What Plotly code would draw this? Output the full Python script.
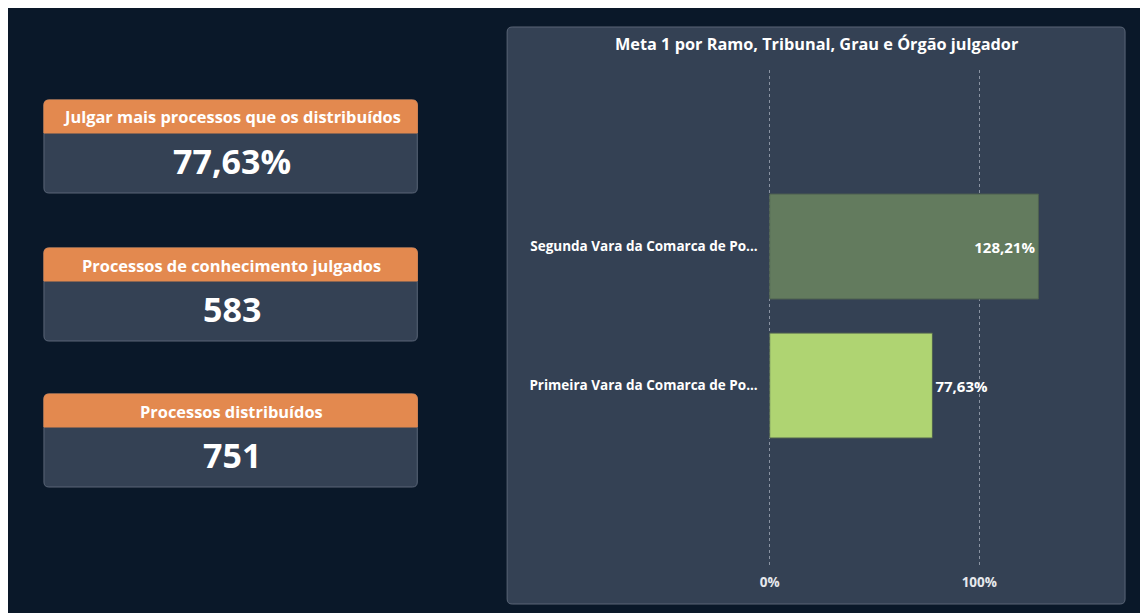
import plotly.graph_objects as go

# ---------------- data ----------------
card_titles = ["Julgar mais processos que os distribuídos",
               "Processos de conhecimento julgados",
               "Processos distribuídos"]
card_values = ["77,63%", "583", "751"]

orgaos = ["Primeira Vara da Comarca de Po...", "Segunda Vara da Comarca de Po..."]
meta_pct = [77.63, 128.21]
bar_colors = ["#afd472", "#637b5e"]
tick_vals = [0, 100]
tick_text = ["0%", "100%"]
chart_title = "Meta 1 por Ramo, Tribunal, Grau e Órgão julgador"

# ---------------- geometry helpers ----------------
W, H = 1148, 613
OX, OY = 8, 8  # page offset (body margin) between reference pixels and figure pixels


def px(x):
    return (x - OX) / W


def py(y):
    return 1 - (y - OY) / H


def rrect(x0, y0, x1, y1, r=4, top=True, bottom=True):
    rx, ry = r / W, r / H
    X0, X1 = px(x0), px(x1)
    Yt, Yb = py(y0), py(y1)
    rt = (rx, ry) if top else (0, 0)
    rb = (rx, ry) if bottom else (0, 0)
    p = f"M {X0 + rt[0]},{Yt} L {X1 - rt[0]},{Yt} Q {X1},{Yt} {X1},{Yt - rt[1]} "
    p += f"L {X1},{Yb + rb[1]} Q {X1},{Yb} {X1 - rb[0]},{Yb} "
    p += f"L {X0 + rb[0]},{Yb} Q {X0},{Yb} {X0},{Yb + rb[1]} "
    p += f"L {X0},{Yt - rt[1]} Q {X0},{Yt} {X0 + rt[0]},{Yt} Z"
    return p


FONT = "Open Sans"
BG = "#0a1829"
CARD = "#344154"
ORANGE = "#e3894f"
BORDER = "#5a6577"

fig = go.Figure()

fig.add_trace(go.Bar(
    y=orgaos, x=meta_pct, orientation="h",
    marker=dict(color=bar_colors, line=dict(color="#4f6150", width=1)),
    texttemplate="%{x:.2f}%",
    textposition=["outside", "inside"],
    insidetextanchor="end",
    textfont=dict(family=FONT, size=15, color="white", weight="bold"),
    outsidetextfont=dict(family=FONT, size=15, color="white", weight="bold"),
    insidetextfont=dict(family=FONT, size=15, color="white", weight="bold"),
    cliponaxis=False,
    hoverinfo="skip",
))

shapes = []
annotations = []

# right panel
shapes.append(dict(type="path", path=rrect(506, 27, 1125, 604, r=5),
                   xref="paper", yref="paper", fillcolor=CARD,
                   line=dict(color=BORDER, width=1), layer="below"))
annotations.append(dict(text=chart_title, x=px(816), y=py(44), xref="paper", yref="paper",
                        showarrow=False, xanchor="center", yanchor="middle",
                        font=dict(family=FONT, size=16.3, color="white", weight="bold")))

# KPI cards
card_tops = [100, 248, 394]
for title, value, top in zip(card_titles, card_values, card_tops):
    bottom = top + 93
    head = top + 33
    shapes.append(dict(type="path", path=rrect(42, top, 416, bottom, r=5),
                       xref="paper", yref="paper", fillcolor=CARD,
                       line=dict(color=BORDER, width=1), layer="below"))
    shapes.append(dict(type="path", path=rrect(42, top, 416, head, r=5, bottom=False),
                       xref="paper", yref="paper", fillcolor=ORANGE,
                       line=dict(color=ORANGE, width=1), layer="below"))
    annotations.append(dict(text=title, x=px(230), y=py(top + 17), xref="paper", yref="paper",
                            showarrow=False, xanchor="center", yanchor="middle",
                            font=dict(family=FONT, size=16.4, color="white", weight="bold")))
    annotations.append(dict(text=value, x=px(230), y=py(top + 61), xref="paper", yref="paper",
                            showarrow=False, xanchor="center", yanchor="middle",
                            font=dict(family=FONT, size=34, color="white", weight="bold")))

# bar chart axes: 0% at x=769, 100% at x=979 (reference pixels)
zero_px, hundred_px = 769, 979
ppu = (hundred_px - zero_px) / 100.0
x_left, x_right = 761, 1100
fig.update_layout(
    width=W, height=H,
    margin=dict(l=0, r=0, t=0, b=0),
    paper_bgcolor=BG, plot_bgcolor="rgba(0,0,0,0)",
    separators=",.",
    showlegend=False,
    bargap=0.245,
    shapes=shapes, annotations=annotations,
    xaxis=dict(domain=[px(x_left), px(x_right)],
               range=[(x_left - zero_px) / ppu, (x_right - zero_px) / ppu],
               tickvals=tick_vals, ticktext=tick_text,
               showgrid=True, gridcolor="rgba(210,215,225,0.55)", griddash="dot", gridwidth=1,
               zeroline=False, showline=False,
               tickfont=dict(family=FONT, size=13.5, color="#e6e8ec", weight="bold"),
               ticklabelstandoff=7, fixedrange=True),
    yaxis=dict(domain=[py(565), py(70)], range=[-1.291, 2.27],
               showgrid=False, zeroline=False, showline=False,
               tickfont=dict(family=FONT, size=13.5, color="white", weight="bold"),
               ticklabelstandoff=3, fixedrange=True),
)

fig.write_html("out.html")
